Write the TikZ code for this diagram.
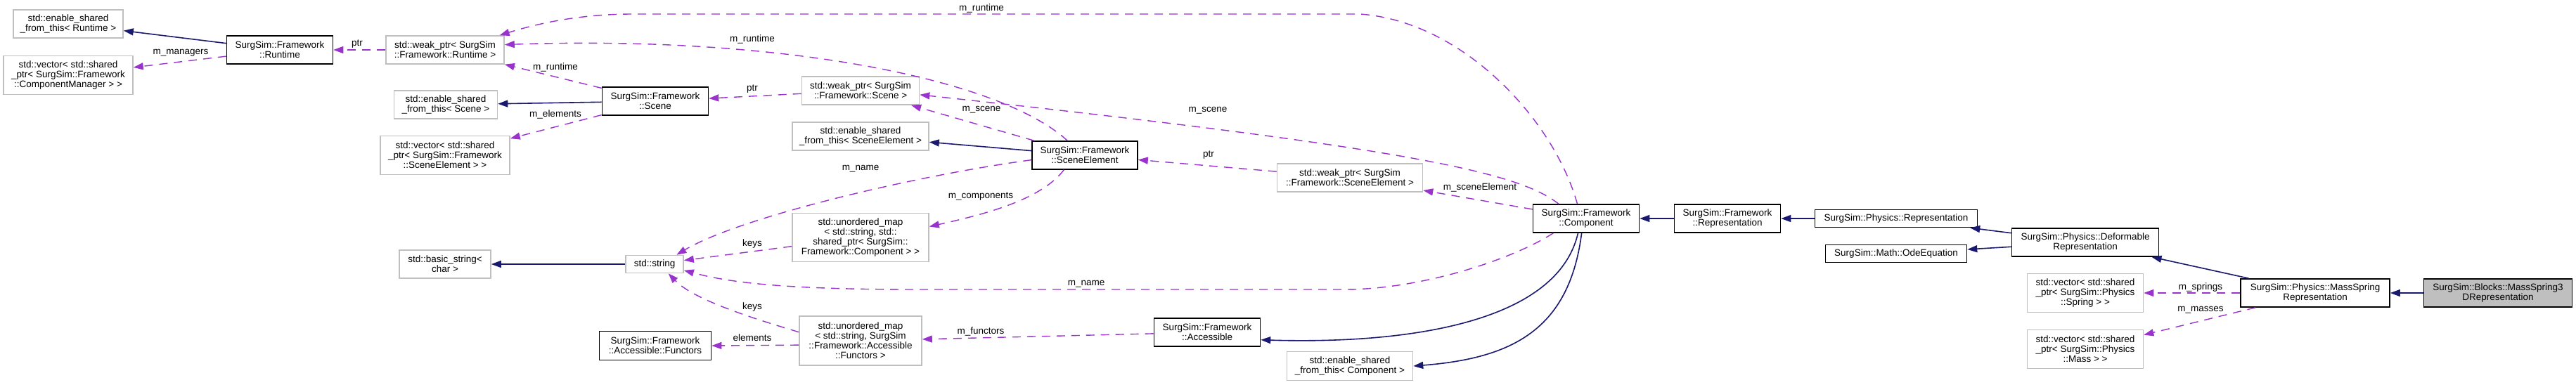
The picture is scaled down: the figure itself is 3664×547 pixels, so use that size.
\documentclass[tikz,border=0pt]{standalone}
\usepackage{fontspec}
\setmainfont{Liberation Sans}
\usetikzlibrary{arrows.meta}
\definecolor{inhblue}{HTML}{191970}
\definecolor{usepurple}{HTML}{9A32CD}
\definecolor{extgray}{HTML}{BFBFBF}

\begin{document}
\begin{tikzpicture}[
        x=1pt, y=-1pt,
        every node/.style={font=\fontsize{13.5}{14}\selectfont},
        box/.style 2 args={minimum width=#1pt, minimum height=#2pt},
        cls/.style={rectangle, draw=black, line width=1.6pt, align=center, inner sep=0pt},
        ext/.style={rectangle, draw=extgray, line width=1.6pt, align=center, inner sep=0pt},
        lbl/.style={inner sep=0pt},
        inherit/.style={draw=inhblue, line width=1.6pt, -{Triangle[length=14pt,width=10pt]}},
        uses/.style={draw=usepurple, line width=1.4pt, dash pattern=on 12pt off 9pt, -{Triangle[length=14pt,width=10pt]}}
    ]
    \path[use as bounding box, fill=white] (0,0) rectangle (3664,547);

    % Runtime group
    \node[ext, box={156}{40}] (esftRuntime) at (97,34) {std::enable\_shared\\\_from\_this< Runtime >};
    \node[ext, box={184}{55}] (vecManagers) at (97,107) {std::vector< std::shared\\\_ptr< SurgSim::Framework\\::ComponentManager > >};
    \node[cls, box={151}{40}] (runtime) at (398,71) {SurgSim::Framework\\::Runtime};
    \node[ext, box={168}{40}] (weakRuntime) at (633,71) {std::weak\_ptr< SurgSim\\::Framework::Runtime >};

    % Scene group
    \node[ext, box={147}{40}] (esftScene) at (634,149) {std::enable\_shared\\\_from\_this< Scene >};
    \node[ext, box={184}{55}] (vecElements) at (633,221) {std::vector< std::shared\\\_ptr< SurgSim::Framework\\::SceneElement > >};
    \node[cls, box={151}{40}] (scene) at (932,144) {SurgSim::Framework\\::Scene};
    \node[ext, box={167}{40}] (weakScene) at (1224,129) {std::weak\_ptr< SurgSim\\::Framework::Scene >};

    % strings and accessors
    \node[ext, box={130}{40}] (basicString) at (633,376) {std::basic\_string<\\char >};
    \node[ext, box={82}{25}] (stdString) at (931,376) {std::string};
    \node[cls, box={159}{41}] (accFunctors) at (932,492) {SurgSim::Framework\\::Accessible::Functors};
    \node[ext, box={194}{40}] (esftElement) at (1224,194) {std::enable\_shared\\\_from\_this< SceneElement >};
    \node[ext, box={194}{69}] (mapComponents) at (1224,338) {std::unordered\_map\\< std::string, std::\\shared\_ptr< SurgSim::\\Framework::Component > >};
    \node[ext, box={174}{70}] (mapFunctors) at (1224,485) {std::unordered\_map\\< std::string, SurgSim\\::Framework::Accessible\\::Functors >};

    % SceneElement and Component
    \node[cls, box={150}{40}] (sceneElement) at (1543,221) {SurgSim::Framework\\::SceneElement};
    \node[ext, box={207}{40}] (weakElement) at (1920,253) {std::weak\_ptr< SurgSim\\::Framework::SceneElement >};
    \node[cls, box={151}{40}] (accessible) at (1717,473) {SurgSim::Framework\\::Accessible};
    \node[ext, box={179}{41}] (esftComponent) at (1920,521) {std::enable\_shared\\\_from\_this< Component >};
    \node[cls, box={151}{40}] (component) at (2256,311) {SurgSim::Framework\\::Component};

    % representations
    \node[cls, box={151}{40}] (fwRep) at (2457,311) {SurgSim::Framework\\::Representation};
    \node[cls, box={231}{25}] (physRep) at (2697,311) {SurgSim::Physics::Representation};
    \node[cls, box={201}{25}] (odeEq) at (2697,361) {SurgSim::Math::OdeEquation};
    \node[cls, box={209}{40}] (deformRep) at (2966,345) {SurgSim::Physics::Deformable\\Representation};
    \node[ext, box={165}{55}] (vecSprings) at (2966,417) {std::vector< std::shared\\\_ptr< SurgSim::Physics\\::Spring > >};
    \node[ext, box={165}{55}] (vecMasses) at (2966,497) {std::vector< std::shared\\\_ptr< SurgSim::Physics\\::Mass > >};
    \node[cls, box={212}{40}] (massSpring) at (3293,417) {SurgSim::Physics::MassSpring\\Representation};
    \node[cls, box={211}{40}, fill=extgray] (massSpring3D) at (3553,417) {SurgSim::Blocks::MassSpring3\\DRepresentation};

    % labels
    \node[lbl] (lblManagers) at (257,75) {m\_managers};
    \node[lbl] (lblPtrRuntime) at (508,63) {ptr};
    \node[lbl] (lblRuntimeScene) at (790,96) {m\_runtime};
    \node[lbl] (lblElements) at (790,163) {m\_elements};
    \node[lbl] (lblPtrScene) at (1070,127) {ptr};
    \node[lbl] (lblRuntimeElement) at (1070,56) {m\_runtime};
    \node[lbl] (lblSceneElement) at (1396,156) {m\_scene};
    \node[lbl] (lblNameElement) at (1224,240) {m\_name};
    \node[lbl] (lblComponents) at (1395,280) {m\_components};
    \node[lbl] (lblPtrElement) at (1719,221) {ptr};
    \node[lbl] (lblKeysComp) at (1070,347) {keys};
    \node[lbl] (lblKeysFunc) at (1070,437) {keys};
    \node[lbl] (lblFuncElements) at (1070,481) {elements};
    \node[lbl] (lblFunctors) at (1395,472) {m\_functors};
    \node[lbl] (lblRuntimeComp) at (1396,12) {m\_runtime};
    \node[lbl] (lblSceneComp) at (1718,157) {m\_scene};
    \node[lbl] (lblSceneElemComp) at (2105,267) {m\_sceneElement};
    \node[lbl] (lblNameComp) at (1545,404) {m\_name};
    \node[lbl] (lblSprings) at (3130,409) {m\_springs};
    \node[lbl] (lblMasses) at (3130,441) {m\_masses};

    % inheritance
    \draw[inherit] (runtime) -- (esftRuntime);
    \draw[inherit] (scene) -- (esftScene);
    \draw[inherit] (sceneElement) -- (esftElement);
    \draw[inherit] (stdString) -- (basicString);
    \draw[inherit] (component.241) .. controls (2215,460) and (2000,490) .. (accessible.-8);
    \draw[inherit] (component.253) .. controls (2232,470) and (2150,510) .. (esftComponent.east);
    \draw[inherit] (fwRep) -- (component);
    \draw[inherit] (physRep) -- (fwRep);
    \draw[inherit] (deformRep) -- (physRep);
    \draw[inherit] (deformRep) -- (odeEq);
    \draw[inherit] (massSpring) -- (deformRep);
    \draw[inherit] (massSpring3D) -- (massSpring);

    % members
    \draw[uses] (runtime) -- (vecManagers);
    \draw[uses] (weakRuntime) -- (runtime);
    \draw[uses] (scene) -- (weakRuntime);
    \draw[uses] (scene) -- (vecElements);
    \draw[uses] (weakScene) -- (scene);
    \draw[uses] (sceneElement.140) .. controls (1420,110) and (1100,50) .. (weakRuntime.5);
    \draw[uses] (sceneElement) -- (weakScene);
    \draw[uses] (sceneElement.185) .. controls (1300,250) and (1050,310) .. (stdString.23);
    \draw[uses] (sceneElement.215) .. controls (1480,285) and (1400,305) .. (mapComponents.9);
    \draw[uses] (weakElement) -- (sceneElement);
    \draw[uses] (mapComponents) -- (stdString);
    \draw[uses] (mapFunctors.172) .. controls (1060,450) and (985,425) .. (stdString.-34);
    \draw[uses] (mapFunctors.184) -- (accFunctors.east);
    \draw[uses] (accessible) -- (mapFunctors);
    \draw[uses] (component.121) .. controls (2210,170) and (2080,30) .. (1934,20) -- (900,20) .. controls (820,20) and (760,35) .. (weakRuntime.15);
    \draw[uses] (component.152) .. controls (2160,245) and (2000,210) .. (weakScene.-4);
    \draw[uses] (component) -- (weakElement);
    \draw[uses] (component.204) .. controls (2150,370) and (2020,412) .. (1913,412) -- (1300,412) .. controls (1100,412) and (1030,400) .. (stdString.-12);
    \draw[uses] (massSpring) -- (vecSprings);
    \draw[uses] (massSpring) -- (vecMasses);
\end{tikzpicture}
\end{document}
